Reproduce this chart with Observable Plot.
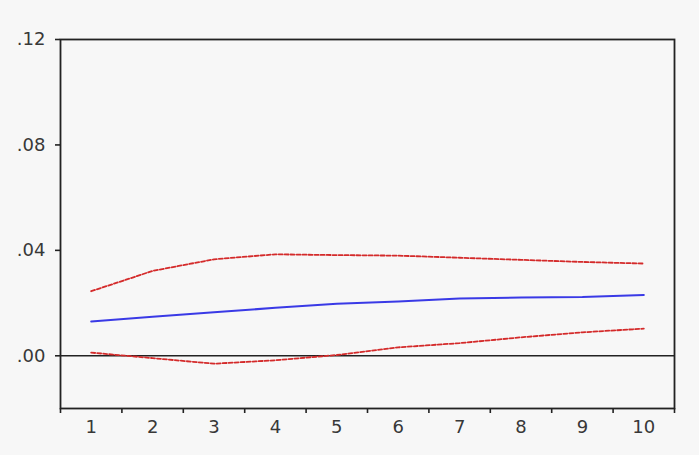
<!DOCTYPE html>
<html>
<head>
<meta charset="utf-8">
<script src="https://cdn.jsdelivr.net/npm/d3@7"></script>
<script src="https://cdn.jsdelivr.net/npm/@observablehq/plot@0.6"></script>
<style>
  html, body { margin: 0; padding: 0; background: #f7f7f7; }
  #chart svg { display: block; }
</style>
</head>
<body>
<div id="chart"></div>
<script>
const periods = [1, 2, 3, 4, 5, 6, 7, 8, 9, 10];
const response = [0.0130, 0.0148, 0.0165, 0.0182, 0.0197, 0.0206, 0.0217, 0.0221, 0.0223, 0.0231];
const upperBand = [0.0245, 0.0322, 0.0366, 0.0385, 0.0382, 0.0380, 0.0372, 0.0364, 0.0356, 0.0350];
const lowerBand = [0.0012, -0.0009, -0.0030, -0.0017, 0.0003, 0.0032, 0.0048, 0.0070, 0.0089, 0.0103];
const yTicks = [0, 0.04, 0.08, 0.12];
const yTickLabels = [".00", ".04", ".08", ".12"];

const rows = periods.map((p, i) => ({p, r: response[i], hi: upperBand[i], lo: lowerBand[i]}));
const boundaryTicks = d3.range(periods[0] - 0.5, periods[periods.length - 1] + 1, 1);

const chart = Plot.plot({
  width: 699,
  height: 455,
  marginLeft: 60,
  marginRight: 25,
  marginTop: 39,
  marginBottom: 47,
  style: {background: "#f7f7f7", fontFamily: "DejaVu Sans, Verdana, sans-serif", fontSize: "18px", color: "#383838"},
  x: {domain: [0.5, 10.5]},
  y: {domain: [-0.02, 0.12]},
  marks: [
    Plot.axisY({ticks: yTicks, tickFormat: (d) => yTickLabels[yTicks.indexOf(d)], tickSize: 5, tickPadding: 10, label: null, stroke: "#222", strokeWidth: 1.6, fill: "#383838", fontSize: 18}),
    Plot.axisX({ticks: boundaryTicks, tickFormat: () => "", tickSize: 5, label: null, stroke: "#222", strokeWidth: 1.6}),
    Plot.axisX({ticks: periods, tickSize: 0, tickPadding: 12, label: null, fill: "#383838", fontSize: 18}),
    Plot.frame({stroke: "#222", strokeWidth: 1.8}),
    Plot.ruleY([0], {stroke: "#222", strokeWidth: 1.6}),
    Plot.line(rows, {x: "p", y: "hi", stroke: "#d42a2a", strokeWidth: 1.8, strokeDasharray: "4,2"}),
    Plot.line(rows, {x: "p", y: "lo", stroke: "#d42a2a", strokeWidth: 1.8, strokeDasharray: "4,2"}),
    Plot.line(rows, {x: "p", y: "r", stroke: "#3a3ae6", strokeWidth: 2})
  ]
});
d3.select(chart).selectAll("text").attr("font-size", 18).style("font-size", "18px");
document.getElementById("chart").appendChild(chart);
</script>
</body>
</html>
